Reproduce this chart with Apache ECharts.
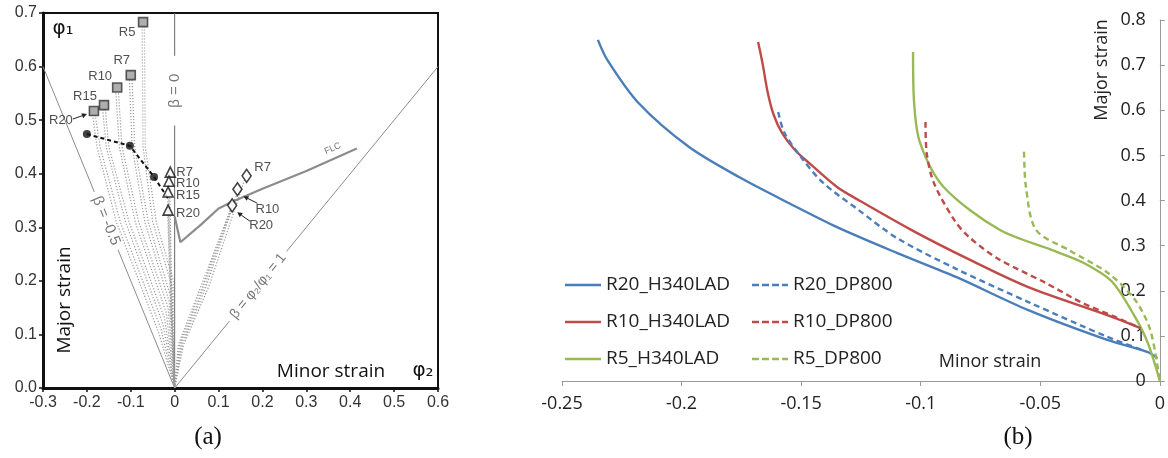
<!DOCTYPE html>
<html>
<head>
<meta charset="utf-8">
<script src="https://cdn.jsdelivr.net/npm/echarts@6/dist/echarts.min.js"></script>
<style>
  html, body { margin: 0; padding: 0; background: #fff; }
  #main { width: 1168px; height: 458px; }
</style>
</head>
<body>
<div id="main"></div>
<script>
// ---- panel (a): forming limit diagram ----
var squareNames = ['R20', 'R15', 'R10', 'R7', 'R5'];
var squarePts = [[-0.184, 0.517], [-0.161, 0.528], [-0.131, 0.561], [-0.100, 0.584], [-0.072, 0.683]];
var triNames = ['R7', 'R10', 'R15', 'R20'];
var triPts = [[-0.010, 0.403], [-0.013, 0.386], [-0.015, 0.366], [-0.015, 0.332]];
var diaNames = ['R7', 'R10', 'R20'];
var diaPts = [[0.164, 0.396], [0.143, 0.371], [0.131, 0.341]];
var dotPts = [[-0.200, 0.474], [-0.102, 0.452], [-0.047, 0.394]];
var dashPath = [[-0.200, 0.474], [-0.102, 0.452], [-0.047, 0.394], [-0.012, 0.350]];
var flc = [[0, 0.32], [0.013, 0.272], [0.06, 0.305], [0.1, 0.335], [0.13, 0.347], [0.2, 0.372], [0.3, 0.405], [0.415, 0.447]];
var beta0 = [[[0, 0], [0, 0.49]], [[0, 0.62], [0, 0.7]]];
var betaNeg = [[[0, 0], [-0.129, 0.258]], [[-0.183, 0.366], [-0.3, 0.6]]];
var beta1 = [[[0, 0], [0.125, 0.125]], [[0.255, 0.255], [0.6, 0.6]]];
var leftPaths = [
  [[-0.187, 0.51], [-0.177, 0.45], [-0.133, 0.31], [-0.035, 0.10], [0, 0]],
  [[-0.181, 0.51], [-0.170, 0.45], [-0.124, 0.31], [-0.031, 0.11], [0, 0]],
  [[-0.164, 0.52], [-0.156, 0.45], [-0.112, 0.31], [-0.027, 0.12], [0, 0]],
  [[-0.158, 0.52], [-0.150, 0.45], [-0.104, 0.31], [-0.023, 0.13], [0, 0]],
  [[-0.134, 0.55], [-0.126, 0.45], [-0.090, 0.31], [-0.019, 0.14], [0, 0]],
  [[-0.128, 0.55], [-0.120, 0.45], [-0.082, 0.31], [-0.015, 0.15], [0, 0]],
  [[-0.103, 0.575], [-0.097, 0.45], [-0.068, 0.31], [-0.012, 0.16], [0, 0]],
  [[-0.097, 0.575], [-0.091, 0.45], [-0.060, 0.31], [-0.009, 0.17], [0, 0]],
  [[-0.074, 0.675], [-0.072, 0.45], [-0.050, 0.31], [-0.006, 0.19], [0, 0]],
  [[-0.069, 0.675], [-0.067, 0.45], [-0.042, 0.31], [-0.003, 0.20], [0, 0]]
];
var triPaths = [
  [[-0.012, 0.40], [-0.006, 0.15], [0, 0]],
  [[-0.014, 0.38], [-0.007, 0.15], [0, 0]],
  [[-0.016, 0.36], [-0.008, 0.15], [0, 0]],
  [[-0.016, 0.33], [-0.009, 0.15], [0, 0]]
];
var diaPaths = [
  [[0, 0], [0.008, 0.08], [0.060, 0.19], [0.128, 0.335]],
  [[0, 0], [0.011, 0.08], [0.064, 0.19], [0.133, 0.345]],
  [[0, 0], [0.014, 0.08], [0.068, 0.19], [0.138, 0.355]],
  [[0, 0], [0.017, 0.08], [0.072, 0.19], [0.143, 0.365]],
  [[0, 0], [0.020, 0.08], [0.078, 0.19], [0.160, 0.39]]
];

// ---- panel (b): strain paths ----
var seriesNamesB = ['R20_H340LAD', 'R20_DP800', 'R10_H340LAD', 'R10_DP800', 'R5_H340LAD', 'R5_DP800'];
var r20H = [[-0.235, 0.756], [-0.231, 0.711], [-0.218, 0.616], [-0.197, 0.519], [-0.176, 0.452], [-0.155, 0.394],
  [-0.135, 0.341], [-0.110, 0.284], [-0.085, 0.230], [-0.055, 0.157], [-0.022, 0.091], [-0.005, 0.064], [-0.001, 0.05]];
var r20D = [[-0.1596, 0.596], [-0.157, 0.55], [-0.150, 0.496], [-0.141, 0.44], [-0.126, 0.379], [-0.110, 0.317],
  [-0.085, 0.248], [-0.055, 0.175], [-0.022, 0.098], [-0.006, 0.066]];
var r10H = [[-0.168, 0.751], [-0.166, 0.70], [-0.164, 0.64], [-0.1615, 0.59], [-0.158, 0.55], [-0.1526, 0.512],
  [-0.146, 0.48], [-0.135, 0.43], [-0.126, 0.401], [-0.104, 0.335], [-0.080, 0.27], [-0.055, 0.208],
  [-0.022, 0.146], [-0.008, 0.117]];
var r10D = [[-0.098, 0.574], [-0.0975, 0.505], [-0.0945, 0.439], [-0.086, 0.357], [-0.080, 0.32], [-0.068, 0.272],
  [-0.048, 0.218], [-0.032, 0.172], [-0.020, 0.145], [-0.008, 0.117]];
var r5H = [[-0.1032, 0.729], [-0.1028, 0.62], [-0.1004, 0.53], [-0.0904, 0.43], [-0.067, 0.335], [-0.045, 0.29],
  [-0.032, 0.262], [-0.020, 0.22], [-0.0104, 0.142], [-0.005, 0.084], [0, 0]];
var r5D = [[-0.0568, 0.508], [-0.056, 0.43], [-0.0518, 0.335], [-0.038, 0.29], [-0.0216, 0.239], [-0.0104, 0.18],
  [-0.004, 0.113], [0, 0]];
var dataB = [r20H, r20D, r10H, r10D, r5H, r5D];

var BLUE = '#4a7ebb', RED = '#be4b48', GREEN = '#98b954';
var colorsB = [BLUE, BLUE, RED, RED, GREEN, GREEN];
var GRAYLINE = '#8c8c8c';
var SOLID_ICON = 'path://M0,0h36v2.5h-36z';
var DASH_ICON = 'path://M0,0h7v2.5h-7z M10,0h7v2.5h-7z M20,0h7v2.5h-7z M30,0h6v2.5h-6z';

var chart = echarts.init(document.getElementById('main'));

function fmt1(v) {
  if (Math.abs(v) < 1e-9) return '0';
  return v.toFixed(1);
}

var series = [];

function plainLine(name, pts, style, z) {
  series.push({
    type: 'line', name: name, xAxisIndex: 0, yAxisIndex: 0, data: pts,
    symbol: 'none', silent: true, animation: false, z: z || 2,
    lineStyle: style
  });
}

beta0.forEach(function (seg, i) { plainLine('b0_' + i, seg, { color: '#666', width: 1 }); });
betaNeg.forEach(function (seg, i) { plainLine('bn_' + i, seg, { color: GRAYLINE, width: 1 }); });
beta1.forEach(function (seg, i) { plainLine('b1_' + i, seg, { color: GRAYLINE, width: 1 }); });
leftPaths.concat(triPaths, diaPaths).forEach(function (p, i) {
  plainLine('path_' + i, p, { color: '#999', width: 1.2, type: [1.2, 1.8] });
});
plainLine('FLC', flc, { color: GRAYLINE, width: 2.2 }, 3);
plainLine('dash', dashPath, { color: '#111', width: 2, type: [4, 3] }, 4);

function markers(name, pts, names, symbol, size, itemStyle, labelOpts) {
  series.push({
    type: 'scatter', name: name, xAxisIndex: 0, yAxisIndex: 0, silent: true, z: 6,
    symbol: symbol, symbolSize: size, itemStyle: itemStyle,
    data: pts.map(function (p, i) {
      var item = { value: p };
      if (names) {
        item.label = {
          show: true, formatter: names[i], position: 'inside',
          offset: labelOpts.offsets[i], align: labelOpts.align,
          color: '#222', fontSize: 13, fontFamily: 'Liberation Sans'
        };
      }
      return item;
    })
  });
}

markers('squares', squarePts, squareNames, 'rect', 9,
  { color: '#9a9a9a', borderColor: '#333', borderWidth: 1.6 },
  { align: 'center', offsets: [[-33, 9], [-19, -9], [-17, -11], [-9, -15], [-16, 10]] });
markers('dots', dotPts, null, 'circle', 8, { color: '#111' });
markers('triangles', triPts, triNames, 'triangle', 10,
  { color: '#fff', borderColor: '#111', borderWidth: 1.6 },
  { align: 'left', offsets: [[6, 0], [7, 2], [8, 3], [8, 3]] });
markers('diamonds', diaPts, diaNames, 'diamond', [9, 13],
  { color: '#fff', borderColor: '#111', borderWidth: 1.6 },
  { align: 'center', offsets: [[16, -8], [30, 20], [29, 20]] });

dataB.forEach(function (d, i) {
  var dashed = seriesNamesB[i].indexOf('DP800') >= 0;
  series.push({
    type: 'line', name: seriesNamesB[i], xAxisIndex: 1, yAxisIndex: 1, data: d,
    symbol: 'none', showSymbol: false, smooth: 0.3, silent: true, z: dashed ? 3 : 2,
    lineStyle: { color: colorsB[i], width: 2.4, type: dashed ? [6, 4] : 'solid' },
    itemStyle: { color: colorsB[i] }
  });
});

var legendText = { fontSize: 19, fontFamily: 'Open Sans', color: '#222', lineHeight: 20 };
function legendBlock(names, left) {
  return {
    data: names.map(function (n) {
      return { name: n, icon: n.indexOf('DP800') >= 0 ? DASH_ICON : SOLID_ICON };
    }),
    orient: 'vertical', left: left, top: 270, itemWidth: 36, itemHeight: 2.5, itemGap: 17,
    textStyle: legendText, selectedMode: false
  };
}

chart.setOption({
  animation: false,
  backgroundColor: '#fff',
  grid: [
    { left: 43, top: 13, width: 395, height: 375, show: true, borderColor: '#111', borderWidth: 2 },
    { left: 562, top: 20, width: 603, height: 361 }
  ],
  xAxis: [
    {
      gridIndex: 0, type: 'value', min: -0.3, max: 0.6, interval: 0.1,
      axisLine: { onZero: false, lineStyle: { color: '#111', width: 3 } },
      axisTick: { length: 4, lineStyle: { color: '#111', width: 1.5 } },
      axisLabel: { formatter: fmt1, color: '#333', fontSize: 16, fontFamily: 'Liberation Sans', margin: 7 },
      splitLine: { show: false }
    },
    {
      gridIndex: 1, type: 'value', min: -0.25, max: 0, interval: 0.05,
      axisLine: { onZero: false, lineStyle: { color: '#9a9a9a', width: 1 } },
      axisTick: { length: 5, lineStyle: { color: '#9a9a9a' } },
      axisLabel: {
        formatter: function (v) { return Math.abs(v) < 1e-9 ? '0' : String(parseFloat(v.toFixed(2))); },
        color: '#222', fontSize: 18, fontFamily: 'Open Sans', margin: 14
      },
      splitLine: { show: false }
    }
  ],
  yAxis: [
    {
      gridIndex: 0, type: 'value', min: 0, max: 0.7, interval: 0.1,
      axisLine: { show: true, onZero: false, lineStyle: { color: '#111', width: 3 } },
      axisTick: { show: true, length: 4, lineStyle: { color: '#111', width: 1.5 } },
      axisLabel: { formatter: function (v) { return v.toFixed(1); }, color: '#333', fontSize: 16, fontFamily: 'Liberation Sans', margin: 6 },
      splitLine: { show: false }
    },
    {
      gridIndex: 1, type: 'value', position: 'right', min: 0, max: 0.8, interval: 0.1,
      axisLine: { show: true, onZero: false, lineStyle: { color: '#9a9a9a', width: 1 } },
      axisTick: { show: true, length: 5, lineStyle: { color: '#9a9a9a' } },
      axisLabel: { inside: true, formatter: fmt1, color: '#222', fontSize: 18, fontFamily: 'Open Sans', margin: 14 },
      splitLine: { show: false }
    }
  ],
  legend: [
    legendBlock([seriesNamesB[0], seriesNamesB[2], seriesNamesB[4]], 560),
    legendBlock([seriesNamesB[1], seriesNamesB[3], seriesNamesB[5]], 747)
  ],
  series: series
});

// ---- annotations placed from the axes ----
function P(pt) { return chart.convertToPixel({ gridIndex: 0 }, pt); }

function txt(text, pos, opts) {
  opts = opts || {};
  return {
    type: 'text', x: pos[0], y: pos[1], rotation: opts.rotation || 0, silent: true, z: 10,
    style: {
      text: text, fill: opts.color || '#111', fontSize: opts.size || 15,
      fontFamily: opts.family || 'Liberation Sans', align: 'center', verticalAlign: 'middle'
    }
  };
}

function angleOf(a, b) {
  var pa = P(a), pb = P(b);
  return -Math.atan2(pb[1] - pa[1], pb[0] - pa[0]);
}

function arrow(from, to) {
  var dx = to[0] - from[0], dy = to[1] - from[1];
  var len = Math.sqrt(dx * dx + dy * dy), ux = dx / len, uy = dy / len;
  var hl = 5, hw = 2.6;
  var bx = to[0] - ux * hl, by = to[1] - uy * hl;
  return [
    { type: 'line', silent: true, z: 10, shape: { x1: from[0], y1: from[1], x2: bx, y2: by }, style: { stroke: '#222', lineWidth: 1 } },
    { type: 'polygon', silent: true, z: 10, shape: { points: [[to[0], to[1]], [bx - uy * hw, by + ux * hw], [bx + uy * hw, by - ux * hw]] }, style: { fill: '#222' } }
  ];
}

function rel(pt, d) { var p = P(pt); return [p[0] + d[0], p[1] + d[1]]; }

var g = [];
g.push(txt('\u03C6\u2081', [63, 29], { size: 20, family: 'DejaVu Sans' }));
g.push(txt('Major strain', [65, 300], { size: 19, family: 'Open Sans', rotation: Math.PI / 2 }));
g.push(txt('Minor strain', [331, 372], { size: 19, family: 'Open Sans' }));
g.push(txt('\u03C6\u2082', [423, 371], { size: 20, family: 'DejaVu Sans' }));
g.push(txt('(a)', [208, 437], { size: 25, family: 'Liberation Serif' }));
g.push(txt('\u03B2 = 0', P([0, 0.555]), { size: 15, color: '#777', rotation: Math.PI / 2 }));
g.push(txt('\u03B2 = -0.5', P([-0.156, 0.312]), { size: 15, color: '#777', rotation: angleOf([-0.3, 0.6], [0, 0]) }));
g.push(txt('\u03B2 = \u03C6\u2082/\u03C6\u2081 = 1', P([0.19, 0.19]), { size: 14, color: '#777', rotation: angleOf([0, 0], [0.6, 0.6]) }));
g.push(txt('FLC', P([0.36, 0.447]), { size: 9, color: '#777', rotation: angleOf([0.3, 0.405], [0.415, 0.447]) }));
g = g.concat(arrow(rel(squarePts[0], [-21, 8]), rel(squarePts[0], [-7, 3])));
g = g.concat(arrow(rel(diaPts[1], [20, 14]), rel(diaPts[1], [6, 7])));
g = g.concat(arrow(rel(diaPts[2], [18, 16]), rel(diaPts[2], [5, 7])));

g.push(txt('Major strain', [1102, 70], { size: 18, family: 'Open Sans', color: '#222', rotation: Math.PI / 2 }));
g.push(txt('Minor strain', [990, 362], { size: 18, family: 'Open Sans', color: '#222' }));
g.push(txt('(b)', [1018, 437], { size: 25, family: 'Liberation Serif' }));

chart.setOption({ graphic: g });
</script>
</body>
</html>
